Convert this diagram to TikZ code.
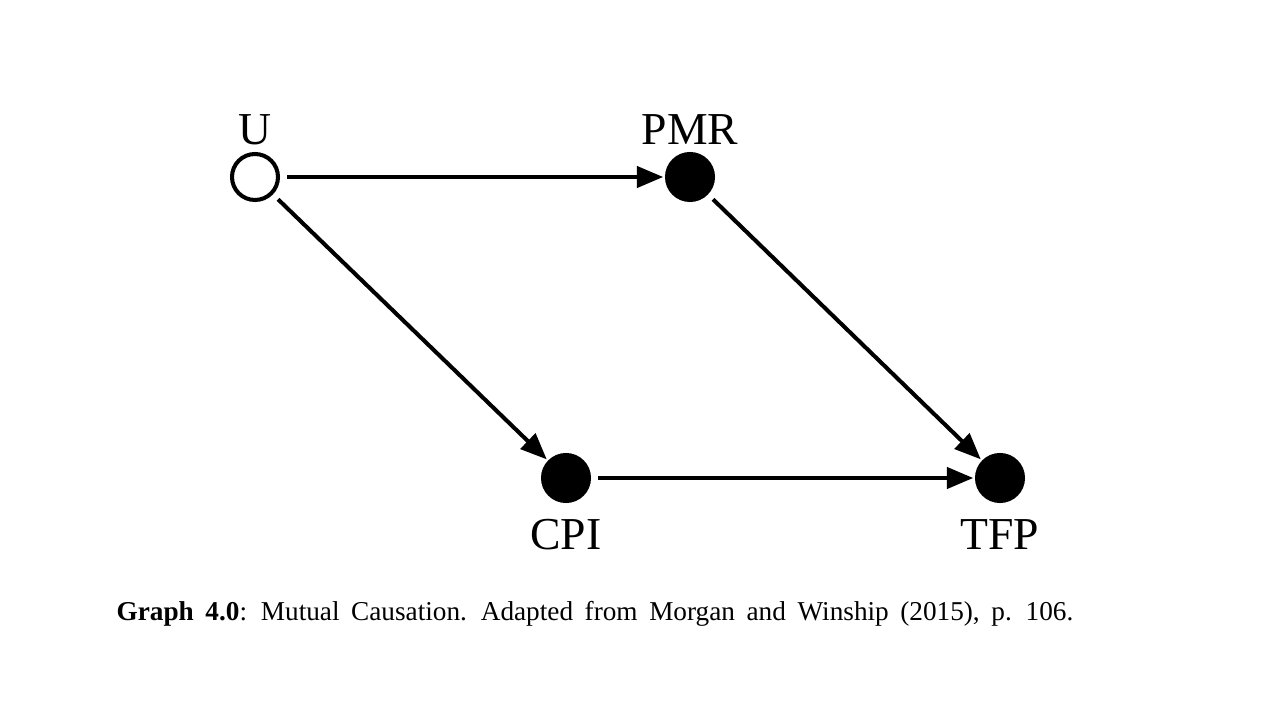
\documentclass[tikz,border=0pt]{standalone}
\usepackage{fontspec}
\setmainfont{Liberation Serif}
\usepackage{tikz}
\usetikzlibrary{arrows.meta,positioning}

\begin{document}
\begin{tikzpicture}[
      var/.style={circle,draw=black,line width=2.3pt,minimum size=0.92cm,
                  inner sep=0pt,fill=black},
      latent/.style={var,fill=white},
      lbl/.style={font=\fontsize{26}{30}\selectfont,inner sep=1pt},
      arr/.style={-{Triangle[length=15pt,width=12pt]},line width=2.3pt,
                  shorten <=4pt,shorten >=1pt}]
    \useasboundingbox (0,0) rectangle (25.6,14.4);
    \node[latent,label={[lbl,label distance=3pt]above:U}](U) at (5.10,10.86){};
    \node[var,label={[lbl,label distance=3pt]above:PMR}](PMR) at (13.80,10.86){};
    \node[var,label={[lbl,label distance=8pt]below:CPI}](CPI) at (11.32,4.84){};
    \node[var,label={[lbl,label distance=8pt]below:TFP}](TFP) at (20.00,4.84){};
    \draw[arr](U)--(PMR);
    \draw[arr](U)--(CPI);
    \draw[arr](PMR)--(TFP);
    \draw[arr](CPI)--(TFP);
    % caption
    \node[font=\fontsize{15.5}{18}\selectfont](cap) at (11.90,2.13)
      {\spaceskip=6.6pt\textbf{Graph 4.0}: Mutual Causation. Adapted from Morgan and Winship (2015), p. 106.};
  \end{tikzpicture}
\end{document}
